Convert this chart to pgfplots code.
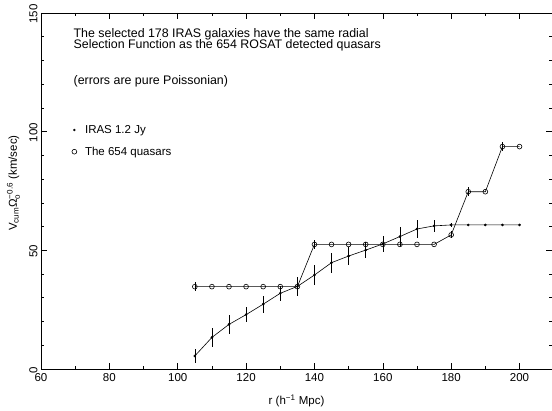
\documentclass[border=0pt]{standalone}
\usepackage{fontspec}
\setmainfont{Liberation Sans}
\usepackage{amsmath}
\usepackage{pgfplots}
\pgfplotsset{compat=1.18}
\pgfplotstableread{
x y e
105 5.5 3
110 13.3 4
115 18.8 4
120 22.9 3.3
125 27.3 3.5
130 31.9 3.2
135 34.8 4
140 39.6 4.2
145 44.8 4.2
150 47.6 3.7
155 50.1 3.3
160 52.7 3.3
165 55.8 4
170 59.0 3.9
175 60.3 2.5
180 60.7 1
185 60.7 0
190 60.7 0
195 60.7 0
200 60.7 0
}\iras
\pgfplotstableread{
x y e
105 34.7 2
110 34.7 0
115 34.7 0
120 34.7 0
125 34.7 0
130 34.7 0
135 34.7 1.5
140 52.5 2
145 52.5 0
150 52.5 0
155 52.5 0
160 52.5 1
165 52.5 0
170 52.5 0
175 52.5 0
180 56.5 1.5
185 74.7 2
190 74.7 0
195 93.7 2
200 93.7 0
}\qso
\begin{document}
\begin{tikzpicture}[x=1pt,y=1pt]
\path[use as bounding box] (0,0) rectangle (552,410);
\begin{axis}[at={(41pt,41pt)}, anchor=south west, scale only axis,
  width=511pt, height=356pt,
  xmin=60, xmax=209.5, ymin=0, ymax=150,
  xtick={60,80,...,200}, minor xtick={70,90,...,190},
  ytick={0,50,100,150}, minor ytick={10,20,...,140},
  tick align=inside, major tick length=6pt, minor tick length=3pt,
  tick style={black, line width=0.6pt},
  axis line style={line width=0.6pt},
  font=\fontsize{11.5}{13}\selectfont,
  /pgf/number format/assume math mode=true,
  xticklabel style={yshift=-1pt},
  yticklabel style={rotate=90, anchor=south, xshift=-1pt},
  xlabel={r (h\textsuperscript{−1} Mpc)},
  xlabel style={at={(axis description cs:0.5,-0.09)}, anchor=center},
  ylabel={V\textsubscript{cum}Ω$^{\text{−0.6}}_{\text{o}}$ (km/sec)},
  ylabel style={at={(axis description cs:-0.054,0.522)}, anchor=center},
  legend style={draw=none, fill=none, at={(axis cs:69.0,102.7)}, anchor=north west,
    inner sep=0pt, outer sep=0pt, nodes={inner sep=0pt},
    row sep=12pt, column sep=0pt, font=\fontsize{11.5}{13}\selectfont},
  legend cell align=left,
  legend image code/.code={\draw[#1] plot coordinates {(0pt,0pt)}; \path (-2.4pt,-1.5pt) (10.5pt,4.5pt);},
]
\addplot[black, line width=0.6pt, mark=*, mark size=1pt, forget plot,
  error bars/.cd, y dir=both, y explicit, error mark=none,
  error bar style={line width=0.6pt}]
  table[x=x, y=y, y error=e] {\iras};
\addplot[black, line width=0.6pt, mark=o, mark size=2.4pt, forget plot,
  mark options={line width=0.6pt},
  error bars/.cd, y dir=both, y explicit, error mark=none,
  error bar style={line width=0.6pt}]
  table[x=x, y=y, y error=e] {\qso};
\addlegendimage{only marks, mark=*, mark size=1pt, black}
\addlegendentry{IRAS 1.2 Jy}
\addlegendimage{only marks, mark=o, mark size=2.4pt, black, mark options={line width=0.6pt}}
\addlegendentry{The 654 quasars}
\node[anchor=base west, inner sep=0pt, font=\fontsize{12.4}{14}\selectfont] at (axis cs:69.5,139.6) {The selected 178 IRAS galaxies have the same radial};
\node[anchor=base west, inner sep=0pt, font=\fontsize{12.4}{14}\selectfont] at (axis cs:69.5,135.0) {Selection Function as the 654 ROSAT detected quasars};
\node[anchor=base west, inner sep=0pt, font=\fontsize{12.4}{14}\selectfont] at (axis cs:69.5,119.9) {(errors are pure Poissonian)};
\end{axis}
\end{tikzpicture}
\end{document}
